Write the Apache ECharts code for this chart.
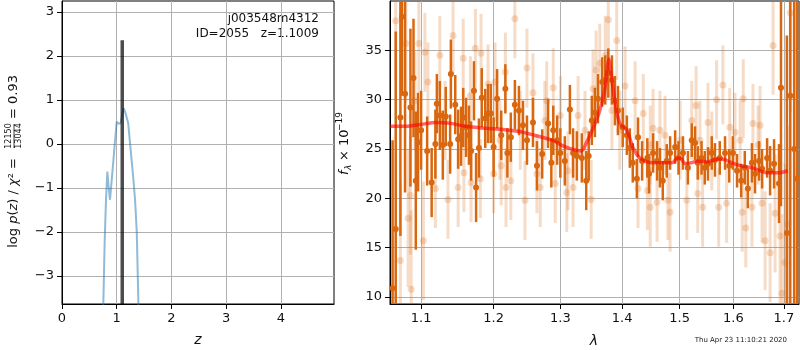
<!DOCTYPE html>
<html>
<head>
<meta charset="utf-8">
<script src="https://cdn.jsdelivr.net/npm/echarts@6/dist/echarts.min.js"></script>
<style>
  html, body { margin: 0; padding: 0; background: #fff; }
  #box { width: 800px; height: 350px; }
</style>
</head>
<body>
<div id="box"></div>
<script>
// p(z) curve, left panel
var pzZ = [0.745, 0.755, 0.780, 0.804, 0.829, 0.850, 0.877, 0.910, 0.940, 0.970, 1.000, 1.030, 1.070, 1.110, 1.130, 1.170, 1.210, 1.243, 1.270, 1.300, 1.335, 1.366, 1.395, 1.405]
var pzLog = [-5.0, -3.64, -2.2, -1.27, -0.63, -0.95, -1.27, -0.80, -0.36, 0.09, 0.51, 0.46, 0.47, 0.73, 0.81, 0.66, 0.47, 0.02, -0.35, -0.74, -1.27, -2.0, -3.55, -5.0]
var zBest = 1.1009
var zTop = 2.36

// spectrum, right panel: [lambda, flux, err]
var specDark = [
  [1.063, 10.9, 15], [1.067, 16.9, 20], [1.073, 28.2, 12], [1.075, 38.4, 8], [1.079, 30.6, 10],
  [1.086, 29.2, 8], [1.090, 32.2, 6], [1.093, 21.8, 7], [1.096, 25.7, 5], [1.100, 26.9, 4],
  [1.108, 24.8, 3.5], [1.114, 21.6, 3.5], [1.119, 25.5, 3.5], [1.121, 29.6, 3], [1.125, 28.4, 3.5],
  [1.129, 25.4, 3.5], [1.133, 28.3, 3], [1.139, 25.5, 3], [1.140, 32.6, 3.5], [1.146, 29.5, 3],
  [1.150, 26.0, 3], [1.154, 26.3, 3], [1.157, 28.2, 3], [1.161, 27.2, 3], [1.165, 26.4, 3],
  [1.168, 24.8, 3], [1.172, 30.9, 3], [1.175, 21.1, 3.5], [1.179, 25.1, 3], [1.183, 30.2, 3],
  [1.188, 28.1, 3], [1.192, 28.6, 3], [1.196, 28.6, 3], [1.200, 25.2, 3], [1.205, 30.1, 3],
  [1.211, 26.4, 2.5], [1.217, 31.1, 2.5], [1.220, 24.6, 2.5], [1.225, 26.2, 2.5], [1.231, 29.5, 2.5],
  [1.237, 28.9, 2.5], [1.243, 27.4, 2.5], [1.249, 25.9, 2.5], [1.258, 27.7, 2.5], [1.264, 23.3, 2.5],
  [1.272, 24.5, 2.5], [1.281, 27.6, 2.5], [1.286, 23.6, 2.5], [1.289, 26.9, 2.5], [1.295, 25.9, 2.5],
  [1.300, 24.6, 2.5], [1.307, 23.8, 2.5], [1.315, 29.0, 2.5], [1.320, 24.6, 2.5], [1.326, 24.3, 2.5],
  [1.334, 24.1, 2.5], [1.341, 21.8, 3], [1.345, 24.3, 2.5], [1.350, 27.9, 2.5], [1.355, 28.7, 2.5],
  [1.360, 30.1, 2.5], [1.367, 31.8, 2.5], [1.372, 32.0, 2.5], [1.377, 32.7, 2.5], [1.383, 32.0, 2.5],
  [1.388, 29.9, 2.5], [1.393, 28.9, 2.5], [1.401, 27.2, 2], [1.408, 26.4, 2], [1.413, 25.1, 2],
  [1.418, 23.6, 2], [1.425, 22.0, 2], [1.427, 26.2, 2], [1.434, 23.8, 2], [1.443, 24.1, 2],
  [1.446, 22.5, 2], [1.453, 24.6, 2], [1.460, 23.8, 2], [1.465, 23.1, 2], [1.470, 21.8, 2],
  [1.477, 23.8, 1.7], [1.483, 24.6, 1.7], [1.492, 25.2, 1.7], [1.498, 24.1, 1.7], [1.506, 24.6, 1.7],
  [1.515, 23.1, 1.7], [1.522, 25.9, 1.7], [1.528, 25.6, 1.7], [1.533, 23.6, 1.7], [1.540, 24.1, 1.7],
  [1.546, 23.1, 1.7], [1.552, 23.5, 1.7], [1.559, 24.6, 1.7], [1.565, 23.9, 1.7], [1.574, 24.1, 1.7],
  [1.584, 24.6, 1.7], [1.592, 23.3, 1.7], [1.599, 24.6, 1.7], [1.607, 22.8, 1.7], [1.615, 21.8, 1.7],
  [1.622, 23.1, 1.7], [1.628, 21.0, 2], [1.636, 23.6, 2], [1.642, 22.5, 2], [1.650, 23.8, 2],
  [1.656, 23.0, 2], [1.666, 24.1, 2], [1.672, 22.8, 2.5], [1.680, 23.5, 2.5], [1.690, 21.5, 4],
  [1.694, 31.2, 12], [1.706, 16.5, 20], [1.713, 30.4, 25], [1.721, 25.0, 30], [1.727, 22.0, 30]
]
var specLight = [
  [1.067, 38.0, 6], [1.073, 13.7, 8], [1.080, 35.7, 6], [1.083, 18.0, 7], [1.086, 20.3, 6],
  [1.087, 10.8, 8], [1.092, 29.9, 5], [1.097, 35.7, 5], [1.103, 15.7, 6], [1.105, 34.8, 4],
  [1.109, 31.8, 4], [1.119, 21.0, 4], [1.125, 34.5, 4], [1.132, 27.9, 4], [1.136, 19.9, 4],
  [1.143, 36.5, 4], [1.150, 21.1, 4], [1.157, 34.2, 4], [1.158, 22.6, 4], [1.167, 30.4, 4],
  [1.168, 21.6, 4], [1.174, 35.2, 4], [1.181, 22.0, 4], [1.182, 34.7, 4], [1.192, 31.6, 4],
  [1.200, 22.5, 4], [1.202, 31.8, 4], [1.209, 25.9, 4], [1.211, 23.3, 4], [1.217, 32.8, 4],
  [1.218, 21.1, 4], [1.225, 21.8, 4], [1.231, 38.2, 4], [1.239, 26.9, 4], [1.246, 19.8, 4],
  [1.249, 33.2, 4], [1.258, 30.7, 4], [1.264, 22.5, 4], [1.269, 21.1, 4], [1.276, 27.9, 4],
  [1.279, 29.9, 4], [1.289, 31.2, 4], [1.292, 21.5, 4], [1.300, 28.4, 4], [1.310, 20.6, 4],
  [1.312, 22.8, 4], [1.320, 21.1, 4], [1.328, 28.4, 4], [1.339, 26.9, 4], [1.349, 19.9, 4],
  [1.352, 31.1, 4], [1.357, 33.0, 4], [1.363, 33.7, 4], [1.372, 34.5, 4], [1.377, 38.1, 4],
  [1.383, 28.9, 4], [1.391, 36.0, 4], [1.396, 26.9, 4], [1.405, 31.4, 4], [1.422, 29.9, 4],
  [1.427, 21.0, 4], [1.436, 28.6, 4], [1.443, 20.8, 4], [1.448, 19.1, 4], [1.448, 25.4, 4],
  [1.453, 27.1, 4], [1.460, 19.6, 4], [1.465, 26.9, 4], [1.474, 26.4, 4], [1.479, 19.8, 4],
  [1.483, 18.6, 4], [1.501, 25.9, 4], [1.513, 19.8, 4], [1.522, 27.9, 4], [1.530, 29.4, 4],
  [1.533, 20.5, 4], [1.537, 25.9, 4], [1.542, 19.1, 4], [1.552, 27.7, 4], [1.559, 24.8, 4],
  [1.568, 30.0, 4], [1.572, 19.1, 4], [1.580, 31.5, 4], [1.587, 19.5, 4], [1.593, 27.2, 4],
  [1.603, 26.7, 4], [1.613, 25.9, 4], [1.617, 18.6, 4], [1.619, 30.1, 4], [1.624, 17.0, 4],
  [1.636, 19.1, 4], [1.638, 27.6, 4], [1.648, 25.4, 4], [1.652, 27.4, 4], [1.656, 19.5, 4],
  [1.662, 15.7, 5], [1.672, 14.5, 5], [1.678, 35.5, 5], [1.682, 18.5, 6], [1.692, 16.2, 7],
  [1.696, 10.4, 8], [1.702, 13.5, 10], [1.708, 17.4, 10], [1.713, 38.8, 10]
]
var modelLam = [1.060, 1.066, 1.080, 1.100, 1.119, 1.140, 1.160, 1.188, 1.210, 1.236, 1.260, 1.287, 1.305, 1.323, 1.333, 1.341, 1.352, 1.363, 1.371, 1.378, 1.383, 1.388, 1.396, 1.408, 1.418, 1.430, 1.453, 1.470, 1.486, 1.497, 1.503, 1.510, 1.520, 1.533, 1.550, 1.571, 1.585, 1.597, 1.615, 1.636, 1.652, 1.667, 1.690, 1.708]
var modelFlux = [27.3, 27.3, 27.3, 27.5, 27.7, 27.6, 27.3, 27.1, 27.0, 26.8, 26.4, 25.9, 25.3, 24.9, 24.8, 25.6, 27.1, 28.9, 31.0, 34.1, 32.0, 29.8, 27.6, 26.9, 25.2, 24.1, 23.6, 23.6, 23.6, 24.1, 24.0, 23.5, 23.6, 23.8, 23.7, 24.0, 23.9, 23.6, 23.3, 23.1, 22.8, 22.6, 22.6, 22.8]

var zTicks = [0, 1, 2, 3, 4]
var pTicks = [-3, -2, -1, 0, 1, 2, 3]
var lamTicks = [1.1, 1.2, 1.3, 1.4, 1.5, 1.6, 1.7]
var fTicks = [10, 15, 20, 25, 30, 35]

var FONT = 'DejaVu Sans'
var ORANGE = '#d8670f'
var ORANGE_LIGHT = 'rgba(216,103,15,0.24)'

function lg(v) { return Math.log10(v) }
function minus(v) { return String(v).replace('-', '\u2212') }

function errRender(color, lw, r) {
  return function(params, api) {
    var x = api.value(0), y = api.value(1), e = api.value(2)
    var p = api.coord([x, y])
    var lo = api.coord([x, y - e])
    var hi = api.coord([x, y + e])
    return {
      type: 'group',
      children: [
        { type: 'line', shape: { x1: p[0], y1: lo[1], x2: p[0], y2: hi[1] }, style: { stroke: color, lineWidth: lw } },
        { type: 'circle', shape: { cx: p[0], cy: p[1], r: r }, style: { fill: color } }
      ]
    }
  }
}

var gridLine = { show: true, lineStyle: { color: '#b0b0b0', width: 1 } }
var tick = { show: true, length: 5, lineStyle: { color: '#000' } }
var lbl = { color: '#111', fontSize: 13, fontFamily: FONT, margin: 8 }
var axLine = { show: true, onZero: false, lineStyle: { color: '#000' } }

var chart = echarts.init(document.getElementById('box'))
var option = {
  animation: false,
  grid: [
    { left: 62, top: 1, width: 272, height: 303, show: true, borderColor: '#000', borderWidth: 1, backgroundColor: 'transparent' },
    { left: 390, top: 1, width: 409, height: 303, show: true, borderColor: '#000', borderWidth: 1, backgroundColor: 'transparent' }
  ],
  xAxis: [
    {
      gridIndex: 0, type: 'value', min: 0, max: 4.97,
      axisLine: axLine,
      axisTick: Object.assign({ customValues: zTicks }, tick),
      axisLabel: Object.assign({ customValues: zTicks }, lbl),
      splitLine: gridLine
    },
    {
      gridIndex: 1, type: 'value', min: lg(1.0597), max: lg(1.731),
      axisLine: axLine,
      axisTick: Object.assign({ customValues: lamTicks.map(lg) }, tick),
      axisLabel: Object.assign({
        customValues: lamTicks.map(lg),
        formatter: function(v) { return Math.pow(10, v).toFixed(1) }
      }, lbl),
      splitLine: gridLine
    }
  ],
  yAxis: [
    {
      gridIndex: 0, type: 'value', min: -3.64, max: 3.25,
      axisLine: axLine,
      axisTick: Object.assign({ customValues: pTicks }, tick),
      axisLabel: Object.assign({ customValues: pTicks, formatter: minus }, lbl),
      splitLine: gridLine
    },
    {
      gridIndex: 1, type: 'value', min: 9.3, max: 40,
      axisLine: axLine,
      axisTick: Object.assign({ customValues: fTicks }, tick),
      axisLabel: Object.assign({ customValues: fTicks }, lbl),
      splitLine: gridLine
    }
  ],
  series: [
    {
      type: 'line', xAxisIndex: 0, yAxisIndex: 0, showSymbol: false, clip: true,
      data: pzZ.map(function(z, i) { return [z, pzLog[i]] }),
      lineStyle: { color: 'rgba(31,119,180,0.5)', width: 2 }
    },
    {
      type: 'line', xAxisIndex: 0, yAxisIndex: 0, showSymbol: false, clip: true,
      data: [[zBest, -3.64], [zBest, zTop]],
      lineStyle: { color: 'rgba(0,0,0,0.7)', width: 3.5 }
    },
    {
      type: 'custom', xAxisIndex: 1, yAxisIndex: 1, clip: true,
      renderItem: errRender(ORANGE_LIGHT, 3, 3.5),
      data: specLight.map(function(d) { return [lg(d[0]), d[1], d[2]] })
    },
    {
      type: 'custom', xAxisIndex: 1, yAxisIndex: 1, clip: true,
      renderItem: errRender(ORANGE, 2.5, 3),
      data: specDark.map(function(d) { return [lg(d[0]), d[1], d[2]] })
    },
    {
      type: 'line', xAxisIndex: 1, yAxisIndex: 1, showSymbol: false, clip: true, smooth: 0.3,
      data: modelLam.map(function(l, i) { return [lg(l), modelFlux[i]] }),
      lineStyle: { color: 'rgba(255,0,0,0.6)', width: 3.5 }
    }
  ],
  graphic: [
    { type: 'text', right: 481, top: 13, style: { text: 'j003548m4312', font: '12px "DejaVu Sans"', fill: '#111' } },
    { type: 'text', right: 481, top: 28, style: { text: 'ID=2055   z=1.1009', font: '12px "DejaVu Sans"', fill: '#111' } },
    { type: 'text', x: 198, y: 340, style: { text: 'z', font: 'italic 14px "DejaVu Sans"', fill: '#111', align: 'center', verticalAlign: 'middle' } },
    { type: 'text', x: 594, y: 341, style: { text: '\u03bb', font: 'italic 14px "DejaVu Sans"', fill: '#111', align: 'center', verticalAlign: 'middle' } },
    { type: 'text', x: 787, y: 340, style: { text: 'Thu Apr 23 11:10:21 2020', font: '7px "DejaVu Sans"', fill: '#222', align: 'right', verticalAlign: 'middle' } },
    {
      type: 'group', x: 14, y: 152, rotation: Math.PI / 2,
      children: [
        { type: 'text', x: -6, y: 0, style: {
            text: '{n|log }{i|p}{n|(}{i|z}{n|) / }{i|\u03c7}{n|\u00b2 =}',
            align: 'right', verticalAlign: 'middle',
            rich: { n: { font: '13px "DejaVu Sans"', fill: '#111' }, i: { font: 'italic 13px "DejaVu Sans"', fill: '#111' } }
          } },
        { type: 'text', x: 16, y: -5, style: { text: '12150', font: '8px "DejaVu Sans"', fill: '#111', align: 'center', verticalAlign: 'middle' } },
        { type: 'line', shape: { x1: 4, y1: 0, x2: 28, y2: 0 }, style: { stroke: '#111', lineWidth: 0.8 } },
        { type: 'text', x: 16, y: 5, style: { text: '13044', font: '8px "DejaVu Sans"', fill: '#111', align: 'center', verticalAlign: 'middle' } },
        { type: 'text', x: 33, y: 0, style: { text: '= 0.93', font: '13px "DejaVu Sans"', fill: '#111', align: 'left', verticalAlign: 'middle' } }
      ]
    },
    {
      type: 'group', x: 345, y: 144, rotation: Math.PI / 2,
      children: [
        { type: 'text', x: -31, y: 0, style: { text: 'f', font: 'italic 13px "DejaVu Sans"', fill: '#111', align: 'left', verticalAlign: 'middle' } },
        { type: 'text', x: -26, y: 4, style: { text: '\u03bb', font: 'italic 9px "DejaVu Sans"', fill: '#111', align: 'left', verticalAlign: 'middle' } },
        { type: 'text', x: -17, y: 0, style: { text: '\u00d7 10', font: '13px "DejaVu Sans"', fill: '#111', align: 'left', verticalAlign: 'middle' } },
        { type: 'text', x: 13, y: -5, style: { text: '\u221219', font: '9px "DejaVu Sans"', fill: '#111', align: 'left', verticalAlign: 'middle' } }
      ]
    }
  ]
}
chart.setOption(option)
</script>
</body>
</html>
